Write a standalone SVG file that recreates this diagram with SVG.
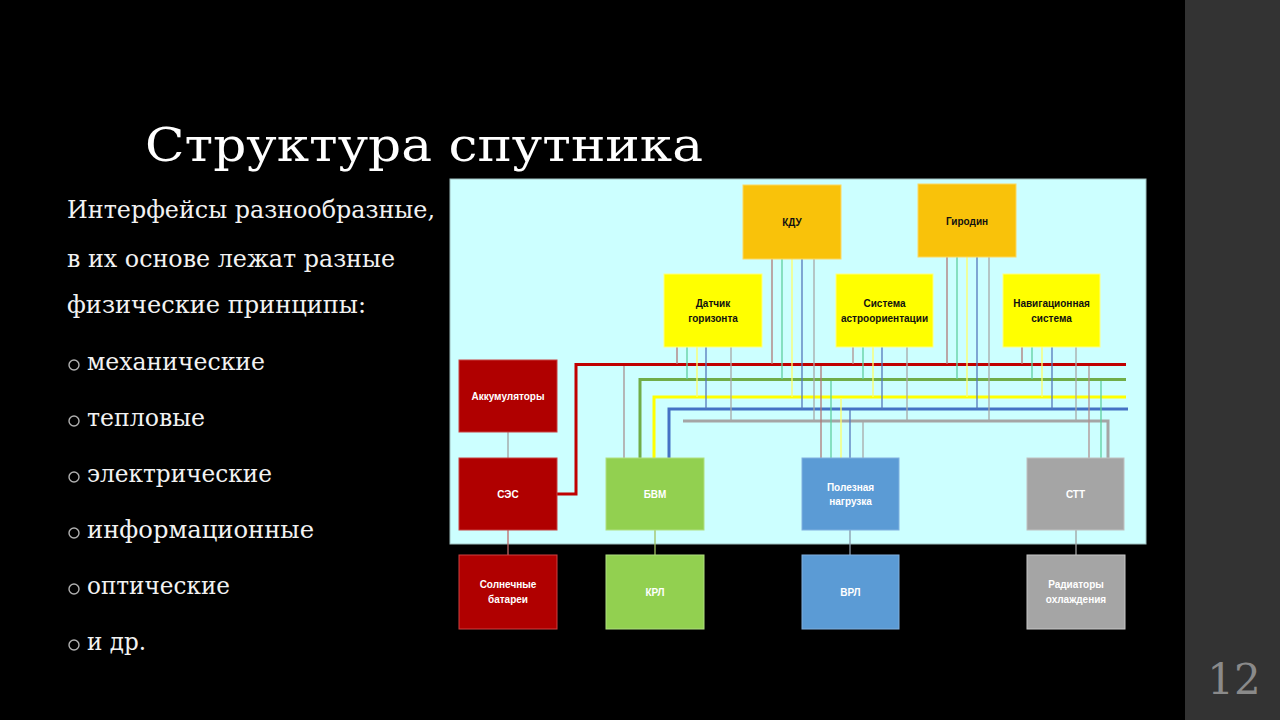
<svg xmlns="http://www.w3.org/2000/svg" width="1280" height="720" viewBox="0 0 1280 720">
<style>
.title{font-family:"DejaVu Serif","Liberation Serif",serif;fill:#ffffff;font-size:47px}
.body{font-family:"DejaVu Serif","Liberation Serif",serif;fill:#f2f2f2;font-size:24px}
.lbl{font-family:"Liberation Sans","DejaVu Sans",sans-serif;font-weight:bold;font-size:10px;text-anchor:middle}
.dk{fill:#111111}
.wt{fill:#ffffff}
.bus{fill:none;stroke-width:3}
.thin{fill:none;stroke-width:1.3}
.bul{fill:none;stroke:#b0b0b0;stroke-width:1.4}
</style>
<rect x="0" y="0" width="1280" height="720" fill="#000000"/>
<rect x="1185" y="0" width="95" height="720" fill="#333333"/>
<text x="1234" y="694" font-family="DejaVu Serif, Liberation Serif, serif" font-size="42" fill="#8a8a8a" text-anchor="middle">12</text>

<text class="title" x="145" y="161" textLength="558" lengthAdjust="spacingAndGlyphs">Структура спутника</text>
<text class="body" x="67" y="218" textLength="368" lengthAdjust="spacingAndGlyphs">Интерфейсы разнообразные,</text>
<text class="body" x="67" y="267" textLength="328" lengthAdjust="spacingAndGlyphs">в их основе лежат разные</text>
<text class="body" x="67" y="313" textLength="299" lengthAdjust="spacingAndGlyphs">физические принципы:</text>
<g>
<circle class="bul" cx="74" cy="365" r="5"/><text class="body" x="87" y="370" textLength="178" lengthAdjust="spacingAndGlyphs">механические</text>
<circle class="bul" cx="74" cy="421" r="5"/><text class="body" x="87" y="426" textLength="118" lengthAdjust="spacingAndGlyphs">тепловые</text>
<circle class="bul" cx="74" cy="477" r="5"/><text class="body" x="87" y="482" textLength="185" lengthAdjust="spacingAndGlyphs">электрические</text>
<circle class="bul" cx="74" cy="533" r="5"/><text class="body" x="87" y="538" textLength="227" lengthAdjust="spacingAndGlyphs">информационные</text>
<circle class="bul" cx="74" cy="589" r="5"/><text class="body" x="87" y="594" textLength="143" lengthAdjust="spacingAndGlyphs">оптические</text>
<circle class="bul" cx="74" cy="645" r="5"/><text class="body" x="87" y="650" textLength="59" lengthAdjust="spacingAndGlyphs">и др.</text>
</g>

<rect x="450" y="179" width="696" height="365" fill="#ccffff" stroke="#9fbfbf" stroke-width="1"/>

<g id="connectors">
<polyline class="bus" stroke="#c00000" points="557,494 576,494 576,364.5 1126,364.5"/>
<polyline class="bus" stroke="#70ad47" points="640,458 640,379.5 1126,379.5"/>
<polyline class="bus" stroke="#ffff00" points="654,458 654,397 1126,397"/>
<polyline class="bus" stroke="#4472c4" points="669,458 669,409 1128,409"/>
<polyline class="bus" stroke="#a5a5a5" points="683,421 1108,421 1108,458"/>
<line class="thin" stroke="#b07878" x1="677" y1="347" x2="677" y2="364"/>
<line class="thin" stroke="#5fcf9f" x1="687" y1="347" x2="687" y2="379"/>
<line class="thin" stroke="#ffff66" x1="697" y1="347" x2="697" y2="397"/>
<line class="thin" stroke="#5577bb" x1="706" y1="347" x2="706" y2="409"/>
<line class="thin" stroke="#a8a8a8" x1="731" y1="347" x2="731" y2="421"/>
<line class="thin" stroke="#b07878" x1="772" y1="259" x2="772" y2="364"/>
<line class="thin" stroke="#5fcf9f" x1="782" y1="259" x2="782" y2="379"/>
<line class="thin" stroke="#ffff66" x1="792" y1="259" x2="792" y2="397"/>
<line class="thin" stroke="#5577bb" x1="802" y1="259" x2="802" y2="409"/>
<line class="thin" stroke="#a8a8a8" x1="814" y1="259" x2="814" y2="421"/>
<line class="thin" stroke="#b09090" x1="853" y1="347" x2="853" y2="364"/>
<line class="thin" stroke="#5fcf9f" x1="863" y1="347" x2="863" y2="379"/>
<line class="thin" stroke="#ffff66" x1="873" y1="347" x2="873" y2="397"/>
<line class="thin" stroke="#5577bb" x1="882" y1="347" x2="882" y2="409"/>
<line class="thin" stroke="#a8a8a8" x1="907" y1="347" x2="907" y2="421"/>
<line class="thin" stroke="#b07878" x1="947" y1="257" x2="947" y2="364"/>
<line class="thin" stroke="#5fcf9f" x1="957" y1="257" x2="957" y2="379"/>
<line class="thin" stroke="#ffff66" x1="967" y1="257" x2="967" y2="397"/>
<line class="thin" stroke="#5577bb" x1="977" y1="257" x2="977" y2="409"/>
<line class="thin" stroke="#a8a8a8" x1="989" y1="257" x2="989" y2="421"/>
<line class="thin" stroke="#b07878" x1="1022" y1="347" x2="1022" y2="364"/>
<line class="thin" stroke="#5fcf9f" x1="1032" y1="347" x2="1032" y2="379"/>
<line class="thin" stroke="#ffff66" x1="1042" y1="347" x2="1042" y2="397"/>
<line class="thin" stroke="#5577bb" x1="1052" y1="347" x2="1052" y2="409"/>
<line class="thin" stroke="#a8a8a8" x1="1076" y1="347" x2="1076" y2="421"/>
<line class="thin" stroke="#a89090" x1="624" y1="366" x2="624" y2="458"/>
<line class="thin" stroke="#b07878" x1="821" y1="366" x2="821" y2="458"/>
<line class="thin" stroke="#5fcf9f" x1="831" y1="381" x2="831" y2="458"/>
<line class="thin" stroke="#ffff66" x1="841" y1="398" x2="841" y2="458"/>
<line class="thin" stroke="#5577bb" x1="850" y1="410" x2="850" y2="458"/>
<line class="thin" stroke="#a8a8a8" x1="863" y1="422" x2="863" y2="458"/>
<line class="thin" stroke="#b09090" x1="1089" y1="366" x2="1089" y2="458"/>
<line class="thin" stroke="#5fcf9f" x1="1101" y1="381" x2="1101" y2="458"/>
<line class="thin" stroke="#a0a0a0" x1="508" y1="432" x2="508" y2="458"/>
<line class="thin" stroke="#c06868" x1="508" y1="530" x2="508" y2="555"/>
<line class="thin" stroke="#a0c060" x1="655" y1="530" x2="655" y2="555"/>
<line class="thin" stroke="#8899aa" x1="850" y1="530" x2="850" y2="555"/>
<line class="thin" stroke="#a0a0a0" x1="1076" y1="530" x2="1076" y2="555"/>
</g>

<g id="kdu"><rect x="743" y="185" width="98" height="74" fill="#f9c20a" stroke="#fcd860"/><text class="lbl dk" x="792" y="226">КДУ</text></g>
<g id="girodin"><rect x="918" y="184" width="98" height="73" fill="#f9c20a" stroke="#fcd860"/><text class="lbl dk" x="967" y="225">Гиродин</text></g>
<g id="datchik"><rect x="664" y="274" width="98" height="73" fill="#ffff00" stroke="#ffff80"/><text class="lbl dk" x="713" y="307">Датчик</text><text class="lbl dk" x="713" y="321.5">горизонта</text></g>
<g id="astro"><rect x="836" y="274" width="97" height="73" fill="#ffff00" stroke="#ffff80"/><text class="lbl dk" x="884.5" y="307">Система</text><text class="lbl dk" x="884.5" y="321.5">астроориентации</text></g>
<g id="navig"><rect x="1003" y="274" width="97" height="73" fill="#ffff00" stroke="#ffff80"/><text class="lbl dk" x="1051.5" y="307">Навигационная</text><text class="lbl dk" x="1051.5" y="321.5">система</text></g>

<g id="akkum"><rect x="459" y="360" width="98" height="72" fill="#b00000" stroke="#c84040"/><text class="lbl wt" x="508" y="400">Аккумуляторы</text></g>
<g id="ses"><rect x="459" y="458" width="98" height="72" fill="#b00000" stroke="#c84040"/><text class="lbl wt" x="508" y="498">СЭС</text></g>
<g id="bvm"><rect x="606" y="458" width="98" height="72" fill="#92d050" stroke="#b0e080"/><text class="lbl wt" x="655" y="498">БВМ</text></g>
<g id="payload"><rect x="802" y="458" width="97" height="72" fill="#5b9bd5" stroke="#80b0e0"/><text class="lbl wt" x="850.5" y="490.5">Полезная</text><text class="lbl wt" x="850.5" y="505">нагрузка</text></g>
<g id="stt"><rect x="1027" y="458" width="97" height="72" fill="#a5a5a5" stroke="#c0c0c0"/><text class="lbl wt" x="1075.5" y="498">СТТ</text></g>

<g id="solar"><rect x="459" y="555" width="98" height="74" fill="#b00000" stroke="#d04040"/><text class="lbl wt" x="508" y="588">Солнечные</text><text class="lbl wt" x="508" y="602.5">батареи</text></g>
<g id="krl"><rect x="606" y="555" width="98" height="74" fill="#92d050" stroke="#b0e080"/><text class="lbl wt" x="655" y="595.5">КРЛ</text></g>
<g id="vrl"><rect x="802" y="555" width="97" height="74" fill="#5b9bd5" stroke="#80b0e0"/><text class="lbl wt" x="850.5" y="595.5">ВРЛ</text></g>
<g id="radiators"><rect x="1027" y="555" width="98" height="74" fill="#a5a5a5" stroke="#c8c8c8"/><text class="lbl wt" x="1076" y="588">Радиаторы</text><text class="lbl wt" x="1076" y="602.5">охлаждения</text></g>
</svg>
